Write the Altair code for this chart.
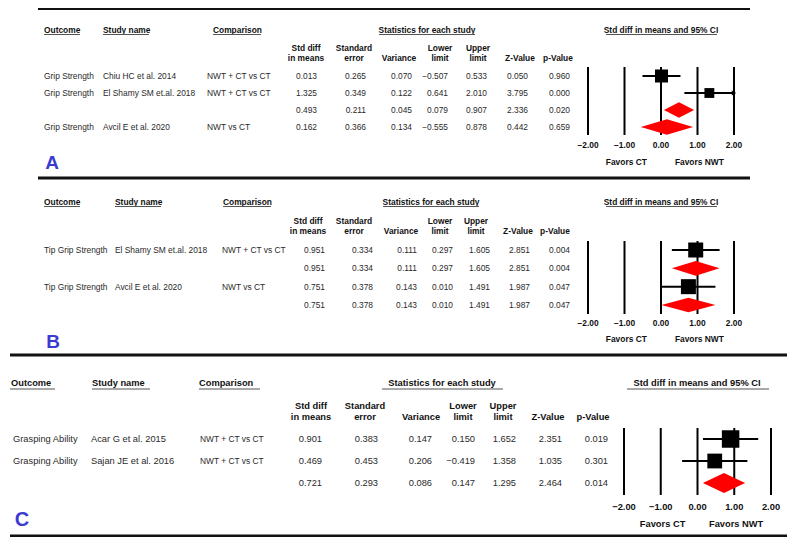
import altair as alt
import pandas as pd

FONT = "Liberation Sans"
OFF = 8
W, H = 779, 529
INK = "#2a2a2a"
HEAD = "#111111"
RED = "#ff0000"
BLUE = "#3b3bd1"

# ---------------- data ----------------
TICKS = [-2, -1, 0, 1, 2]
TICK_LABELS = ["\u22122.00", "\u22121.00", "0.00", "1.00", "2.00"]
FAVORS = ["Favors CT", "Favors NWT"]
FAVORS_AT = [-0.95, 1.05]

GROUP_HEADERS = ["Outcome", "Study name", "Comparison",
                 "Statistics for each study", "Std diff in means and 95% CI"]
COL_HEAD_1 = ["Std diff", "Standard", "", "Lower", "Upper", "", ""]
COL_HEAD_2 = ["in means", "error", "Variance", "limit", "limit", "Z-Value", "p-Value"]

A_outcome = ["Grip Strength", "Grip Strength", "", "Grip Strength"]
A_study = ["Chiu HC et al. 2014", "El Shamy SM et.al. 2018", "", "Avcil E et al. 2020"]
A_comp = ["NWT + CT vs CT", "NWT + CT vs CT", "", "NWT vs CT"]
A_std = [0.013, 1.325, 0.493, 0.162]
A_se = [0.265, 0.349, 0.211, 0.366]
A_var = [0.070, 0.122, 0.045, 0.134]
A_lo = [-0.507, 0.641, 0.079, -0.555]
A_hi = [0.533, 2.010, 0.907, 0.878]
A_z = [0.050, 3.795, 2.336, 0.442]
A_p = [0.960, 0.000, 0.020, 0.659]
A_kind = ["study", "study", "pooled", "pooled"]
A_group = [1, 1, 1, 2]

B_outcome = ["Tip Grip Strength", "", "Tip Grip Strength", ""]
B_study = ["El Shamy SM et.al. 2018", "", "Avcil E et al. 2020", ""]
B_comp = ["NWT + CT vs CT", "", "NWT vs CT", ""]
B_std = [0.951, 0.951, 0.751, 0.751]
B_se = [0.334, 0.334, 0.378, 0.378]
B_var = [0.111, 0.111, 0.143, 0.143]
B_lo = [0.297, 0.297, 0.010, 0.010]
B_hi = [1.605, 1.605, 1.491, 1.491]
B_z = [2.851, 2.851, 1.987, 1.987]
B_p = [0.004, 0.004, 0.047, 0.047]
B_kind = ["study", "pooled", "study", "pooled"]
B_group = [1, 1, 2, 2]

C_outcome = ["Grasping Ability", "Grasping Ability", ""]
C_study = ["Acar G et al. 2015", "Sajan JE et al. 2016", ""]
C_comp = ["NWT + CT vs CT", "NWT + CT vs CT", ""]
C_std = [0.901, 0.469, 0.721]
C_se = [0.383, 0.453, 0.293]
C_var = [0.147, 0.206, 0.086]
C_lo = [0.150, -0.419, 0.147]
C_hi = [1.652, 1.358, 1.295]
C_z = [2.351, 1.035, 2.464]
C_p = [0.019, 0.301, 0.014]
C_kind = ["study", "study", "pooled"]
C_group = [1, 1, 1]

# ---------------- layout (screen pixels) ----------------
LAY = {
    "A": dict(rules=[(8.5, 38, 750), (178, 38, 750)], gh_y=30, gh_x=[44, 103, 213, 427, 661],
              ul_y=34.5, ul=[(44, 80), (103, 149), (213, 261), (379, 475), (606, 717)],
              ch_y=(48, 58), ch_x=[306, 354, 399, 440, 478, 520, 558], rows=(76, 127),
              left_x=[44, 103, 207], num_r=[317, 366, 412, 448, 487, 528, 570],
              fx=(588, 734), vline=(67, 135), tick_y=145, fav_y=162, letter=(52, 163),
              fs=8.4, fs_comp=8.4, lfs=19, hh=0.45, smax=266),
    "B": dict(rules=[(355, 10, 790)], gh_y=202, gh_x=[44, 115, 223, 431, 661],
              ul_y=206.5, ul=[(44, 80), (115, 161), (223, 271), (383, 479), (606, 717)],
              ch_y=(221, 231), ch_x=[308, 354, 401, 440, 476, 518, 555], rows=(250, 305),
              left_x=[44, 115, 222], num_r=[325, 373, 417, 453, 490, 530, 570],
              fx=(588, 734), vline=(241, 314), tick_y=323, fav_y=339, letter=(53, 342),
              fs=8.4, fs_comp=8.4, lfs=19, hh=0.4, smax=225),
    "C": dict(rules=[(536, 10, 790)], gh_y=383, gh_x=[11, 92, 199, 442, 697],
              ul_y=389, ul=[(10, 55), (92, 150), (199, 260), (382, 503), (627, 769)],
              ch_y=(406, 417), ch_x=[311, 365, 421, 463, 503, 548, 593], rows=(439, 483),
              left_x=[13, 91, 200], num_r=[322, 378, 432, 475, 516, 562, 608],
              fx=(624, 771), vline=(428, 495), tick_y=507, fav_y=524, letter=(22, 520),
              fs=9.3, fs_comp=8.4, lfs=20, hh=0.45, smax=524),
}

NUM_FIELDS = ["std", "se", "var", "lo", "hi", "z", "p"]


def fmt(v):
    return f"{v:.3f}".replace("-", "\u2212")


def panel_df(outcome, study, comp, std, se, var, lo, hi, z, p, kind, group):
    df = pd.DataFrame(dict(outcome=outcome, study=study, comp=comp, std=std, se=se, var=var,
                           lo=lo, hi=hi, z=z, p=p, kind=kind, group=group))
    df["row"] = range(len(df))
    for c in NUM_FIELDS:
        df[c + "_s"] = [fmt(v) for v in df[c]]
    inv = 1.0 / df["var"]
    tot = inv.where(df["kind"] == "study").groupby(df["group"]).transform("sum")
    df["w"] = inv / tot
    return df


def put(v):
    return v - OFF


ONE = pd.DataFrame({"k": [0]})


def label(text, x, y, size, bold=False, align="center", color=INK):
    return alt.Chart(ONE).mark_text(
        text=text, align=align, baseline="middle", font=FONT, fontSize=size,
        fontWeight="bold" if bold else "normal", color=color
    ).encode(x=alt.value(put(x)), y=alt.value(put(y)))


def hline(y, x0, x1, width, color):
    return alt.Chart(ONE).mark_rule(strokeWidth=width, color=color).encode(
        x=alt.value(put(x0)), x2=alt.value(put(x1)), y=alt.value(put(y)))


def build(df, L, letter):
    layers = []
    fs = L["fs"]
    ys = alt.Scale(domain=[0, len(df) - 1], range=[put(L["rows"][0]), put(L["rows"][1])],
                   nice=False, zero=False)
    xs = alt.Scale(domain=[-2, 2], range=[put(L["fx"][0]), put(L["fx"][1])],
                   nice=False, zero=False)
    Y = alt.Y("row:Q", scale=ys, axis=None)

    for (y, x0, x1) in L["rules"]:
        layers.append(hline(y, x0, x1, 3, "#111"))
    aligns = ["left", "left", "left", "center", "center"]
    for t, x, a in zip(GROUP_HEADERS, L["gh_x"], aligns):
        layers.append(label(t, x, L["gh_y"], fs, True, a, HEAD))
    for (x0, x1) in L["ul"]:
        layers.append(hline(L["ul_y"], x0, x1, 1.2, "#555"))
    for t1, t2, x in zip(COL_HEAD_1, COL_HEAD_2, L["ch_x"]):
        if t1:
            layers.append(label(t1, x, L["ch_y"][0], fs, True, "center", HEAD))
        layers.append(label(t2, x, L["ch_y"][1], fs, True, "center", HEAD))

    base = alt.Chart(df)
    for field, x, size in zip(["outcome", "study", "comp"], L["left_x"],
                              [fs, fs, L["fs_comp"]]):
        layers.append(base.mark_text(align="left", baseline="middle", font=FONT,
                                     fontSize=size, color=INK).encode(
            x=alt.value(put(x)), y=Y, text=f"{field}:N"))
    for field, x in zip(NUM_FIELDS, L["num_r"]):
        layers.append(base.mark_text(align="right", baseline="middle", font=FONT,
                                     fontSize=fs, color=INK).encode(
            x=alt.value(put(x)), y=Y, text=f"{field}_s:N"))

    tdf = pd.DataFrame({"t": TICKS, "lab": TICK_LABELS})
    layers.append(alt.Chart(tdf).mark_rule(strokeWidth=2, color="#000").encode(
        x=alt.X("t:Q", scale=xs, axis=None),
        y=alt.value(put(L["vline"][0])), y2=alt.value(put(L["vline"][1]))))
    layers.append(alt.Chart(tdf).mark_text(baseline="middle", font=FONT, fontSize=fs,
                                           fontWeight="bold", color=HEAD).encode(
        x=alt.X("t:Q", scale=xs, axis=None), y=alt.value(put(L["tick_y"])), text="lab:N"))
    fdf = pd.DataFrame({"at": FAVORS_AT, "lab": FAVORS})
    layers.append(alt.Chart(fdf).mark_text(baseline="middle", font=FONT, fontSize=fs,
                                           fontWeight="bold", color=HEAD).encode(
        x=alt.X("at:Q", scale=xs, axis=None), y=alt.value(put(L["fav_y"])), text="lab:N"))

    st = base.transform_filter("datum.kind == 'study'")
    layers.append(st.transform_calculate(hi_c="min(datum.hi, 2)").mark_rule(
        strokeWidth=2, color="#000").encode(
        x=alt.X("lo:Q", scale=xs, axis=None), x2="hi_c:Q", y=Y))
    layers.append(st.transform_filter("datum.hi > 2").transform_calculate(edge="2").mark_point(
        shape="triangle-right", filled=True, size=26, color="#000", opacity=1).encode(
        x=alt.X("edge:Q", scale=xs, axis=None), y=Y))
    layers.append(st.mark_square(filled=True, color="#000", opacity=1).encode(
        x=alt.X("std:Q", scale=xs, axis=None), y=Y,
        size=alt.Size("w:Q", scale=alt.Scale(domain=[0, 1], range=[0, L["smax"]]),
                      legend=None)))

    pooled = df[df["kind"] == "pooled"]
    verts = []
    for _, r in pooled.iterrows():
        verts += [dict(row=r["row"], v=r["lo"], k=0),
                  dict(row=r["row"], v=r["std"], k=1),
                  dict(row=r["row"], v=r["hi"], k=0)]
    ddf = pd.DataFrame(verts)
    hh = L["hh"]
    layers.append(alt.Chart(ddf).transform_calculate(
        yt=f"datum.row - {hh} * datum.k", yb=f"datum.row + {hh} * datum.k"
    ).mark_area(orient="vertical", color=RED, opacity=1).encode(
        x=alt.X("v:Q", scale=xs, axis=None),
        y=alt.Y("yt:Q", scale=ys, axis=None), y2="yb:Q", detail="row:N"))

    lx, ly = L["letter"]
    layers.append(label(letter, lx, ly, L["lfs"], True, "center", BLUE))
    return layers


dfA = panel_df(A_outcome, A_study, A_comp, A_std, A_se, A_var, A_lo, A_hi, A_z, A_p, A_kind, A_group)
dfB = panel_df(B_outcome, B_study, B_comp, B_std, B_se, B_var, B_lo, B_hi, B_z, B_p, B_kind, B_group)
dfC = panel_df(C_outcome, C_study, C_comp, C_std, C_se, C_var, C_lo, C_hi, C_z, C_p, C_kind, C_group)

layers = build(dfA, LAY["A"], "A") + build(dfB, LAY["B"], "B") + build(dfC, LAY["C"], "C")

chart = alt.layer(*layers).resolve_scale(
    x="independent", y="independent", size="independent"
).properties(
    width=W, height=H, padding=0, autosize=alt.AutoSizeParams(type="none")
).configure_view(stroke=None)

chart.save("out.html", embed_options={"renderer": "svg", "actions": False})
